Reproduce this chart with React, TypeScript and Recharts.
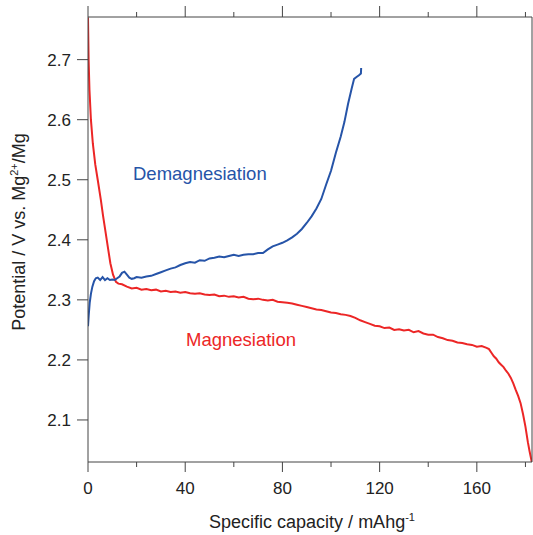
import React from "react";
import { LineChart, Line, XAxis, YAxis } from "recharts";

// magnesiation (discharge) curve
const magCapacity = [
  0, 0.25, 0.6, 1.2, 2.0, 3.0, 4.0, 5.3, 6.2, 7.1, 8.2, 9.2, 10.3, 11.5, 12.5,
  14, 16, 18, 20, 22, 24, 26, 28, 30, 32, 34, 36, 38, 40, 42, 44, 46, 48, 50,
  52, 54, 56, 58, 60, 62, 64, 66, 68, 70, 72, 74, 76, 78, 80, 82, 84, 86, 88,
  90, 92, 94, 96, 98, 100, 102, 104, 106, 108, 110, 112, 114, 116, 118, 120,
  122, 124, 126, 128, 130, 132, 134, 136, 138, 140, 142, 144, 146, 148, 150,
  152, 154, 156, 158, 160, 162, 164, 165, 166, 167, 168, 169, 170, 171, 172,
  173, 174, 175, 176, 177, 178, 179, 180, 181, 181.7, 182.3, 182.6,
];
const magPotential = [
  2.77, 2.7, 2.65, 2.6, 2.56, 2.525, 2.5, 2.466, 2.44, 2.416, 2.387, 2.361,
  2.342, 2.33, 2.327,
  2.326, 2.322, 2.319, 2.32, 2.317, 2.318, 2.316, 2.317, 2.314, 2.315, 2.313,
  2.314, 2.312, 2.313, 2.311, 2.31, 2.311, 2.309, 2.308, 2.309, 2.306, 2.307,
  2.305, 2.306, 2.304, 2.305, 2.302, 2.301, 2.302, 2.3, 2.299, 2.3, 2.297,
  2.296, 2.295, 2.294, 2.292, 2.29, 2.288, 2.286, 2.284, 2.283, 2.281, 2.279,
  2.278, 2.276, 2.275, 2.273, 2.27, 2.266, 2.263, 2.26, 2.257, 2.256, 2.253,
  2.254, 2.25, 2.251, 2.249, 2.25, 2.246, 2.248, 2.244, 2.242, 2.242, 2.238,
  2.236, 2.233, 2.232, 2.229, 2.228, 2.226, 2.225, 2.222, 2.223, 2.22, 2.218,
  2.212, 2.206, 2.202, 2.196, 2.192, 2.188, 2.182, 2.177, 2.17, 2.161, 2.15,
  2.14, 2.128, 2.11, 2.089, 2.063, 2.048, 2.036, 2.03,
];

// demagnesiation (charge) curve
const demagCapacity = [
  0, 0.3, 0.7, 1.2, 1.8, 2.5, 3.2, 4, 5, 6, 7, 8, 9, 10, 11, 12, 13, 14, 15,
  16, 17, 18, 19, 20, 22, 24, 26, 28, 30, 32, 34, 36, 38, 40, 42, 44, 46, 48,
  50, 52, 54, 56, 58, 60, 62, 64, 66, 68, 70, 72, 74, 76, 78, 80, 82, 84, 86,
  88, 90, 92, 94, 96, 98, 100, 102, 104, 105.5, 107, 108.5, 109.5, 110.5,
  111.5, 112.3, 112.4,
];
const demagPotential = [
  2.256, 2.275, 2.295, 2.31, 2.322, 2.331, 2.336, 2.337, 2.333, 2.338, 2.333,
  2.336, 2.333, 2.334, 2.333, 2.336, 2.339, 2.345, 2.347, 2.342, 2.337, 2.335,
  2.336, 2.338, 2.337, 2.339, 2.34, 2.343, 2.346, 2.349, 2.352, 2.354, 2.358,
  2.361, 2.363, 2.362, 2.366, 2.365, 2.369, 2.37, 2.372, 2.371, 2.373, 2.375,
  2.373, 2.375, 2.376, 2.376, 2.378, 2.378, 2.384, 2.389, 2.392, 2.395, 2.399,
  2.404, 2.41, 2.418, 2.428, 2.439, 2.452, 2.468, 2.492, 2.515, 2.545, 2.572,
  2.596, 2.626, 2.652, 2.668, 2.671, 2.674, 2.677, 2.686,
];

const xTicks = [0, 20, 40, 60, 80, 100, 120, 140, 160, 180];
const yTicks = [2.1, 2.2, 2.3, 2.4, 2.5, 2.6, 2.7];

const magData = magCapacity.map((c, i) => ({ c, v: magPotential[i] }));
const demagData = demagCapacity.map((c, i) => ({ c, v: demagPotential[i] }));

const AXIS = "#444";
const FONT = "'Liberation Sans', Arial, sans-serif";
const BLUE = "#2654a8";
const RED = "#ec2626";
const PLOT_H = 445; // distance between bottom and top frame lines

// draws the bottom tick + label, and the mirrored tick on the top frame
function BottomTick({ x, y, payload }: any) {
  const major = payload.value % 40 === 0;
  const top = y - PLOT_H;
  return (
    <g>
      <line x1={x} x2={x} y1={y} y2={y + (major ? 10 : 5)} stroke={AXIS} />
      <line x1={x} x2={x} y1={top} y2={top - (major ? 11 : 5)} stroke={AXIS} />
      {major && (
        <text x={x} y={y + 32} textAnchor="middle" fontSize={17} fill="#222" fontFamily={FONT}>
          {payload.value}
        </text>
      )}
    </g>
  );
}

function LeftTick({ x, y, payload }: any) {
  return (
    <g>
      <line x1={x - 11} x2={x} y1={y} y2={y} stroke={AXIS} />
      <text x={x - 17} y={y + 6} textAnchor="end" fontSize={17} fill="#222" fontFamily={FONT}>
        {payload.value.toFixed(1)}
      </text>
    </g>
  );
}

export default function App() {
  return (
    <div style={{ position: "absolute", left: 0, top: 0, width: 533, height: 535, background: "#fff" }}>
      <LineChart width={533} height={535} margin={{ top: 16, right: 0, bottom: 43, left: 28 }}>
        <XAxis
          xAxisId="b"
          dataKey="c"
          type="number"
          domain={[0, 182.7]}
          ticks={xTicks}
          allowDataOverflow
          height={30}
          tickSize={0}
          tickMargin={0}
          tickLine={false}
          axisLine={{ stroke: AXIS }}
          tick={<BottomTick />}
          interval={0}
        />
        <XAxis
          xAxisId="t"
          orientation="top"
          type="number"
          domain={[0, 182.7]}
          allowDataOverflow
          height={1}
          tick={false}
          tickLine={false}
          axisLine={{ stroke: AXIS }}
        />
        <YAxis
          yAxisId="l"
          type="number"
          domain={[2.03, 2.771]}
          ticks={yTicks}
          allowDataOverflow
          width={60}
          tickSize={0}
          tickMargin={0}
          tickLine={false}
          axisLine={{ stroke: AXIS }}
          tick={<LeftTick />}
          interval={0}
        />
        <YAxis
          yAxisId="r"
          orientation="right"
          type="number"
          domain={[2.03, 2.771]}
          allowDataOverflow
          width={1}
          tick={false}
          tickLine={false}
          axisLine={{ stroke: AXIS }}
        />
        <Line
          xAxisId="b"
          yAxisId="l"
          data={magData}
          dataKey="v"
          stroke={RED}
          strokeWidth={2}
          dot={false}
          isAnimationActive={false}
        />
        <Line
          xAxisId="b"
          yAxisId="l"
          data={demagData}
          dataKey="v"
          stroke={BLUE}
          strokeWidth={2}
          dot={false}
          isAnimationActive={false}
        />
      </LineChart>
      <svg
        width={533}
        height={535}
        style={{ position: "absolute", left: 0, top: 0, pointerEvents: "none" }}
        fontFamily={FONT}
      >
        <text x={133} y={180} fontSize={18.5} fill={BLUE}>
          Demagnesiation
        </text>
        <text x={186} y={346} fontSize={18.5} fill={RED}>
          Magnesiation
        </text>
        <text x={312} y={528} textAnchor="middle" fontSize={18} fill="#222">
          Specific capacity / mAhg
          <tspan dy={-7} fontSize={11}>-1</tspan>
        </text>
        <text transform="translate(25,232) rotate(-90)" textAnchor="middle" fontSize={18} fill="#222">
          Potential / V vs. Mg
          <tspan dy={-7} fontSize={11}>2+</tspan>
          <tspan dy={7}>/Mg</tspan>
        </text>
      </svg>
    </div>
  );
}
